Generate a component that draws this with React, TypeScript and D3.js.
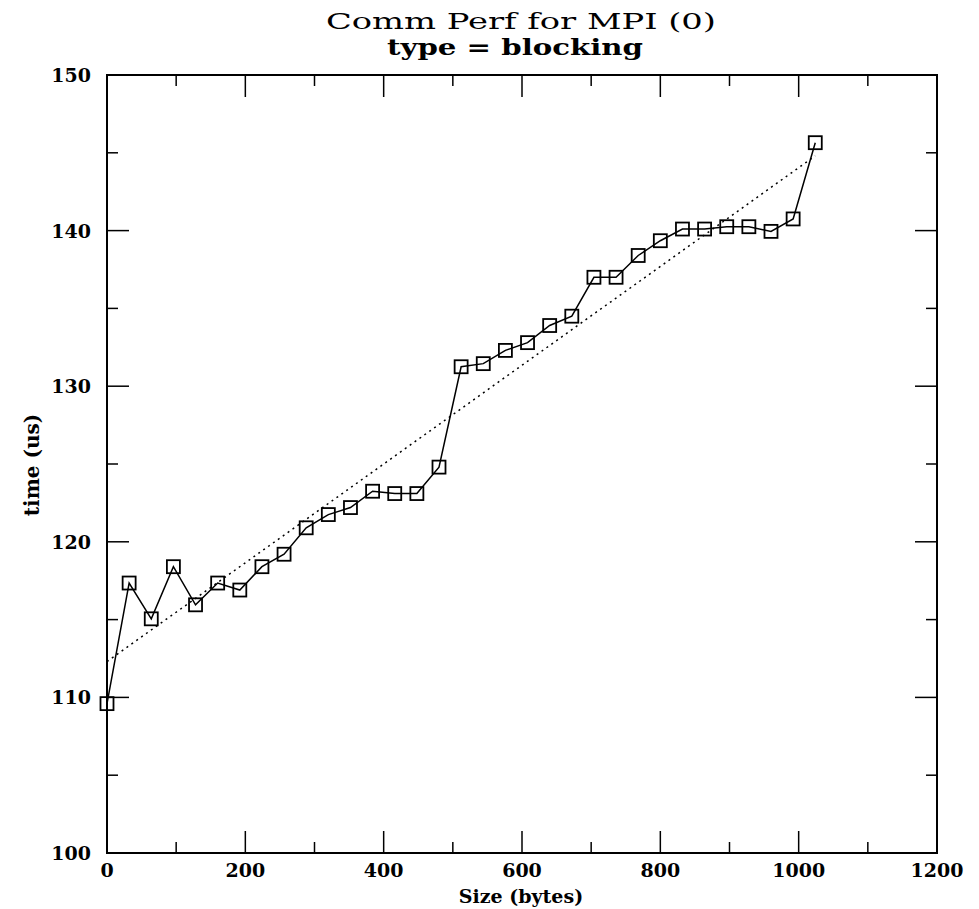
import React from "react";
import * as d3 from "d3";

// Message size in bytes, sampled every 32 bytes
const sizes: number[] = [
  0, 32, 64, 96, 128, 160, 192, 224, 256, 288, 320, 352, 384, 416, 448, 480,
  512, 544, 576, 608, 640, 672, 704, 736, 768, 800, 832, 864, 896, 928, 960,
  992, 1024,
];

// Measured time in microseconds
const times: number[] = [
  109.6, 117.35, 115.05, 118.4, 115.95, 117.35, 116.9, 118.4, 119.2, 120.9,
  121.75, 122.2, 123.25, 123.1, 123.1, 124.8, 131.25, 131.45, 132.3, 132.8,
  133.9, 134.5, 137.0, 137.0, 138.4, 139.35, 140.1, 140.1, 140.25, 140.25,
  139.95, 140.75, 145.65,
];

const xMajorTicks: number[] = [0, 200, 400, 600, 800, 1000, 1200];
const xMinorTicks: number[] = [100, 300, 500, 700, 900, 1100];
const yMajorTicks: number[] = [100, 110, 120, 130, 140, 150];
const yMinorTicks: number[] = [105, 115, 125, 135, 145];

const titleLine1 = "Comm Perf for MPI (0)";
const titleLine2 = "type = blocking";
const xLabel = "Size (bytes)";
const yLabel = "time (us)";

const W = 979;
const H = 909;
const left = 107;
const right = 937;
const top = 75;
const bottom = 853;
const FONT = "'DejaVu Serif', 'Liberation Serif', serif";

export default function App() {
  const x = d3.scaleLinear().domain([0, 1200]).range([left, right]);
  const y = d3.scaleLinear().domain([100, 150]).range([bottom, top]);

  // least-squares fit of time vs size
  const mx = d3.mean(sizes) as number;
  const my = d3.mean(times) as number;
  let sxy = 0;
  let sxx = 0;
  sizes.forEach((s, i) => {
    sxy += (s - mx) * (times[i] - my);
    sxx += (s - mx) * (s - mx);
  });
  const slope = sxy / sxx;
  const intercept = my - slope * mx;
  const x0 = sizes[0];
  const x1 = sizes[sizes.length - 1];

  const line = d3
    .line<number>()
    .x((_, i) => x(sizes[i]))
    .y((d) => y(d));

  const majorLen = 22;
  const minorLen = 11;
  const sq = 13;
  const cx = 521;

  return (
    <svg
      width={W}
      height={H}
      style={{ position: "absolute", left: 0, top: 0, background: "#fff" }}
    >
      <rect x={0} y={0} width={W} height={H} fill="#fff" />
      {/* title */}
      <text
        x={cx}
        y={29}
        textAnchor="middle"
        fontFamily={FONT}
        fontSize={22}
        textLength={390}
        lengthAdjust="spacingAndGlyphs"
        fill="#000"
      >
        {titleLine1}
      </text>
      <text
        x={cx - 6}
        y={55}
        textAnchor="middle"
        fontFamily={FONT}
        fontSize={22}
        fontWeight="bold"
        textLength={256}
        lengthAdjust="spacingAndGlyphs"
        fill="#000"
      >
        {titleLine2}
      </text>

      {/* frame */}
      <rect
        x={left}
        y={top}
        width={right - left}
        height={bottom - top}
        fill="none"
        stroke="#000"
        strokeWidth={2}
      />

      {/* x ticks, bottom and top */}
      {xMajorTicks.map((t) => (
        <g key={"xM" + t}>
          <line x1={x(t)} x2={x(t)} y1={bottom} y2={bottom - majorLen} stroke="#000" strokeWidth={1.5} />
          <line x1={x(t)} x2={x(t)} y1={top} y2={top + majorLen} stroke="#000" strokeWidth={1.5} />
          <text
            x={x(t)}
            y={bottom + 24}
            textAnchor="middle"
            fontFamily={FONT}
            fontSize={19}
            fontWeight="bold"
            fill="#000"
          >
            {t}
          </text>
        </g>
      ))}
      {xMinorTicks.map((t) => (
        <g key={"xm" + t}>
          <line x1={x(t)} x2={x(t)} y1={bottom} y2={bottom - minorLen} stroke="#000" strokeWidth={1.5} />
          <line x1={x(t)} x2={x(t)} y1={top} y2={top + minorLen} stroke="#000" strokeWidth={1.5} />
        </g>
      ))}

      {/* y ticks, left and right */}
      {yMajorTicks.map((t) => (
        <g key={"yM" + t}>
          <line x1={left} x2={left + majorLen} y1={y(t)} y2={y(t)} stroke="#000" strokeWidth={1.5} />
          <line x1={right} x2={right - majorLen} y1={y(t)} y2={y(t)} stroke="#000" strokeWidth={1.5} />
          <text
            x={left - 16}
            y={y(t) + 7}
            textAnchor="end"
            fontFamily={FONT}
            fontSize={19}
            fontWeight="bold"
            fill="#000"
          >
            {t}
          </text>
        </g>
      ))}
      {yMinorTicks.map((t) => (
        <g key={"ym" + t}>
          <line x1={left} x2={left + minorLen} y1={y(t)} y2={y(t)} stroke="#000" strokeWidth={1.5} />
          <line x1={right} x2={right - minorLen} y1={y(t)} y2={y(t)} stroke="#000" strokeWidth={1.5} />
        </g>
      ))}

      {/* axis labels */}
      <text
        x={cx}
        y={903}
        textAnchor="middle"
        fontFamily={FONT}
        fontSize={19}
        fontWeight="bold"
        fill="#000"
      >
        {xLabel}
      </text>
      <text
        transform={`translate(39, 465) rotate(-90)`}
        textAnchor="middle"
        fontFamily={FONT}
        fontSize={20}
        fontWeight="bold"
        fill="#000"
      >
        {yLabel}
      </text>

      {/* fitted trend */}
      <line
        x1={x(x0)}
        y1={y(intercept + slope * x0)}
        x2={x(x1)}
        y2={y(intercept + slope * x1)}
        stroke="#000"
        strokeWidth={1.5}
        strokeDasharray="2,4"
      />

      {/* measured series */}
      <path d={line(times) as string} fill="none" stroke="#000" strokeWidth={1.5} />
      {times.map((v, i) => (
        <rect
          key={"p" + i}
          x={x(sizes[i]) - sq / 2}
          y={y(v) - sq / 2}
          width={sq}
          height={sq}
          fill="none"
          stroke="#000"
          strokeWidth={1.8}
        />
      ))}
    </svg>
  );
}
